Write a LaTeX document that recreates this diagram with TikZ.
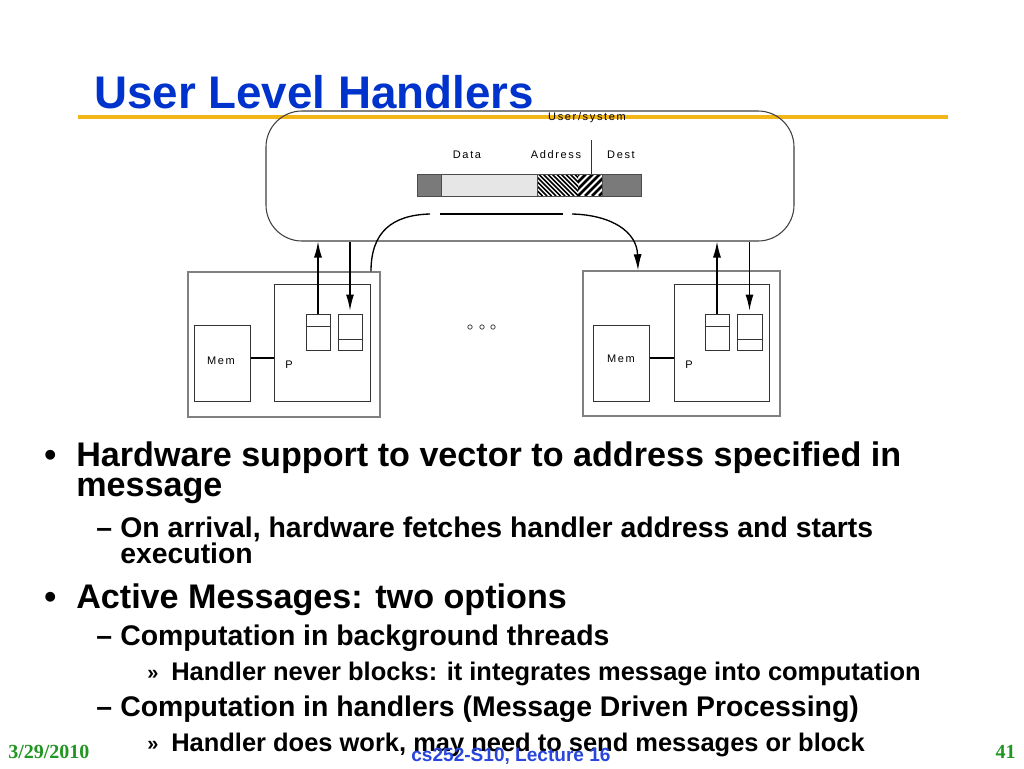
\documentclass[tikz,border=0pt]{standalone}
\usepackage{fontspec}
\setmainfont{Liberation Serif}
\setsansfont{Liberation Sans}
\newfontfamily\lblfont{Liberation Sans}[LetterSpace=15]
\usetikzlibrary{arrows.meta,fit}
\definecolor{titleblue}{RGB}{0,51,204}
\definecolor{goldline}{RGB}{242,182,24}
\definecolor{footgreen}{RGB}{34,150,34}
\definecolor{footblue}{RGB}{40,70,220}
\definecolor{bardark}{RGB}{122,122,122}
\definecolor{barlight}{RGB}{230,230,230}
\tikzset{
  lbl/.style={font=\lblfont\fontsize{8.25}{9}\selectfont, inner sep=0},
  boxo/.style={draw=black!50, line width=1.1pt, inner sep=0},
  boxi/.style={draw=black!80, line width=0.75pt, inner sep=0},
  sysbox/.style={draw=black!75, line width=0.8pt, inner sep=0, rounded corners=27pt},
  arr/.style={-{Latex[length=12pt,width=6pt]}, line width=1pt},
  lvlone/.style={anchor=base west, inner sep=0, font=\sffamily\bfseries\fontsize{25.6}{30}\selectfont},
  lvltwo/.style={anchor=base west, inner sep=0, font=\sffamily\bfseries\fontsize{21.3}{26}\selectfont},
  lvlthree/.style={anchor=base west, inner sep=0, font=\sffamily\bfseries\fontsize{19.1}{23}\selectfont},
  smallmark/.style={anchor=base west, inner sep=0, font=\sffamily\bfseries\fontsize{15}{17}\selectfont},
}
\begin{document}
\begin{tikzpicture}[x=0.75pt,y=-0.75pt]
\fill[white] (0,0) rectangle (1024,768);
\useasboundingbox (0,0) rectangle (1024,768);

% title
\node[anchor=base west, inner sep=0, text=titleblue,
      font=\sffamily\bfseries\fontsize{34.3}{40}\selectfont] (title) at (94,108) {User Level Handlers};
\draw[goldline, line width=3pt] (78,117) -- (948,117);

% system box
\node[sysbox, fit={(266,111) (794,241)}] (sys) {};
\node[lbl] (ustext) at (587,118) {User/system};
\node[lbl] (ldata) at (467,155) {Data};
\node[lbl] (laddr) at (556,155) {Address};
\node[lbl] (ldest) at (621,155) {Dest};

% message bar
\node[inner sep=0, fit={(417,174) (641,196)}] (bar) {};
\fill[bardark] (417,174) rectangle (441,196);
\fill[barlight] (441,174) rectangle (537,196);
\fill[bardark] (602,174) rectangle (641,196);
\begin{scope}
  \clip (537,174) rectangle (578,196);
  \foreach \i in {-30,-25.5,...,50} \draw[line width=1.1pt] (537+\i,174) -- (559+\i,196);
\end{scope}
\begin{scope}
  \clip (578,174) rectangle (602,196);
  \foreach \i in {-35,-28,...,35} \draw[line width=2pt] (578+\i,196) -- (600+\i,174);
\end{scope}
\draw[black!70, line width=0.6pt] (417,174) rectangle (641,196);
\draw[black!70, line width=0.6pt] (441,174) -- (441,196) (537,174) -- (537,196) (602,174) -- (602,196);
\coordinate (tick) at (591,140);
\draw[black!80, line width=0.6pt] (tick) -- (tick |- bar.north);

% left node
\node[boxo, fit={(188,272) (380,417)}] (n1) {};
\node[boxi, fit={(274,284) (370,401)}] (p1) {};
\node[boxi, fit={(194,325) (250,401)}] (m1) {};
\node[boxi, fit={(306,314) (330,350)}] (qa) {};
\node[boxi, fit={(338,314) (362,350)}] (ra) {};
\draw[black!80, line width=0.75pt] (qa.west |- 0,326) -- (qa.east |- 0,326);
\draw[black!80, line width=0.75pt] (ra.west |- 0,339) -- (ra.east |- 0,339);
\node[lbl] (mt1) at (221,361) {Mem};
\node[lbl] (pt1) at (289,365) {P};
\draw[line width=0.9pt] (m1.east |- 0,358) -- (p1.west |- 0,358);
\draw[arr] (qa.north) -- (qa.north |- sys.south);
\draw[arr, shorten >=2.25pt] (ra.north |- sys.south) -- (ra.north);

% right node
\node[boxo, fit={(583,271) (780,416)}] (n2) {};
\node[boxi, fit={(674,284) (769,401)}] (p2) {};
\node[boxi, fit={(593,325) (649,401)}] (m2) {};
\node[boxi, fit={(705,314) (729,350)}] (qb) {};
\node[boxi, fit={(737,314) (762,350)}] (rb) {};
\draw[black!80, line width=0.75pt] (qb.west |- 0,326) -- (qb.east |- 0,326);
\draw[black!80, line width=0.75pt] (rb.west |- 0,339) -- (rb.east |- 0,339);
\node[lbl] (mt2) at (621,359) {Mem};
\node[lbl] (pt2) at (689,365) {P};
\draw[line width=0.9pt] (m2.east |- 0,358) -- (p2.west |- 0,358);
\draw[arr] (qb.north) -- (qb.north |- sys.south);
\draw[arr, shorten >=2.25pt] (rb.north |- sys.south) -- (rb.north);

% curved message path
\coordinate (cs) at (371,272);
\coordinate (ce) at (638,271);
\draw[line width=1pt] (cs |- n1.north) .. controls (371,232) and (392,215) .. (430,214);
\draw[line width=1pt] (440,214) -- (563,214);
\draw[arr] (572,214) .. controls (612,215) and (637,232) .. (ce |- n2.north);

% ellipsis
\foreach \xx/\nm in {470/e1,482/e2,493/e3}
  \node[circle, draw=black!70, line width=0.6pt, minimum size=3.3pt, inner sep=0] (\nm) at (\xx,327) {};

% bullets
\node[lvlone] (b1) at (44,466) {•};
\node[lvlone] (t1) at (76,466) {Hardware support to vector to address specified in};
\node[lvlone] (t2) at (76,496) {message};
\node[lvltwo] (d1) at (96,537) {–};
\node[lvltwo] (t3) at (120,537) {On arrival, hardware fetches handler address and starts};
\node[lvltwo] (t4) at (120,563) {execution};
\node[lvlone] (b2) at (44,608) {•};
\node[lvlone] (t5) at (76,608) {Active Messages: two options};
\node[lvltwo] (d2) at (96,645) {–};
\node[lvltwo] (t6) at (120,645) {Computation in background threads};
\node[smallmark] (s1) at (147,679) {»};
\node[lvlthree] (t7) at (171,680) {Handler never blocks: it integrates message into computation};
\node[lvltwo] (d3) at (96,716) {–};
\node[lvltwo] (t8) at (120,716) {Computation in handlers (Message Driven Processing)};
\node[smallmark] (s2) at (147,750) {»};
\node[lvlthree] (t9) at (171,751) {Handler does work, may need to send messages or block};

% footer
\node[anchor=base west, inner sep=0, text=footgreen, font=\rmfamily\bfseries\fontsize{15}{17}\selectfont] (date) at (8,758) {3/29/2010};
\node[anchor=base, inner sep=0, text=footblue, font=\sffamily\bfseries\fontsize{14.3}{17}\selectfont] (lect) at (511,761) {cs252-S10, Lecture 16};
\node[anchor=base east, inner sep=0, text=footgreen, font=\rmfamily\bfseries\fontsize{15}{17}\selectfont] (pg) at (1016,758) {41};
\end{tikzpicture}
\end{document}
